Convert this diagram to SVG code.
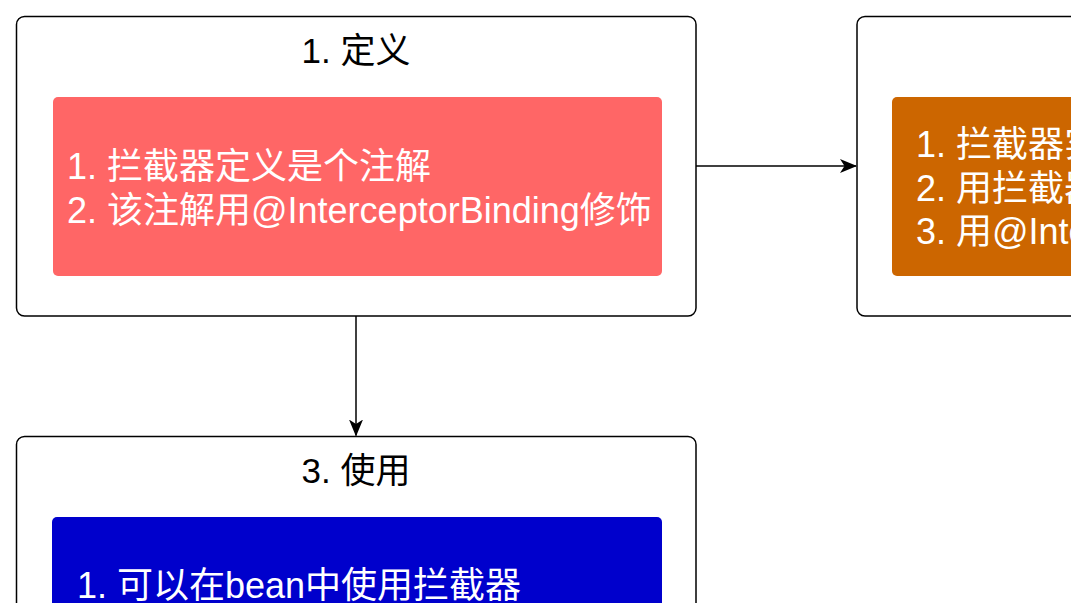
<svg xmlns="http://www.w3.org/2000/svg" width="1071" height="603" viewBox="0 0 1071 603">
<style>
.frame{fill:#ffffff;stroke:#000000;stroke-width:1.5}
.title{font-family:"Liberation Sans","Noto Sans CJK SC",sans-serif;font-size:35px;fill:#000000;text-anchor:middle}
.body{font-family:"Liberation Sans","Noto Sans CJK SC",sans-serif;font-size:36px;fill:#ffffff}
.conn{fill:none;stroke:#000000;stroke-width:1.5}
</style>
<defs>
<marker id="arrow" viewBox="0 0 17 16" refX="16" refY="8" markerWidth="17" markerHeight="16" markerUnits="userSpaceOnUse" orient="auto">
<path d="M0,1 L17,8 L0,15 L4.5,8 z" fill="#000000"/>
</marker>
</defs>
<rect width="1071" height="603" fill="#ffffff"/>
<g id="node-define">
<rect class="frame" x="16.5" y="16.5" width="679.5" height="299.5" rx="8"/>
<text class="title" x="356" y="63">1. 定义</text>
<rect x="53" y="97" width="609" height="179" rx="5" fill="#FF6666"/>
<text class="body" x="67" y="179">1. 拦截器定义是个注解</text>
<text class="body" x="67" y="223">2. 该注解用@InterceptorBinding修饰</text>
</g>
<g id="node-implement">
<rect class="frame" x="857" y="16.5" width="679.5" height="299.5" rx="8"/>
<rect x="892" y="97" width="609" height="179" rx="5" fill="#CC6600"/>
<text class="body" x="916" y="157">1. 拦截器实</text>
<text class="body" x="916" y="201">2. 用拦截器</text>
<text class="body" x="916" y="244">3. 用@Inte</text>
</g>
<g id="node-use">
<rect class="frame" x="16.5" y="436.5" width="679.5" height="299.5" rx="8"/>
<text class="title" x="356" y="483">3. 使用</text>
<rect x="52" y="517" width="610" height="179" rx="5" fill="#0000CC"/>
<text class="body" x="77" y="598">1. 可以在bean中使用拦截器</text>
</g>
<g id="connectors">
<path class="conn" d="M696,166 L856,166" marker-end="url(#arrow)"/>
<path class="conn" d="M356,316 L356,435.5" marker-end="url(#arrow)"/>
</g>
</svg>
